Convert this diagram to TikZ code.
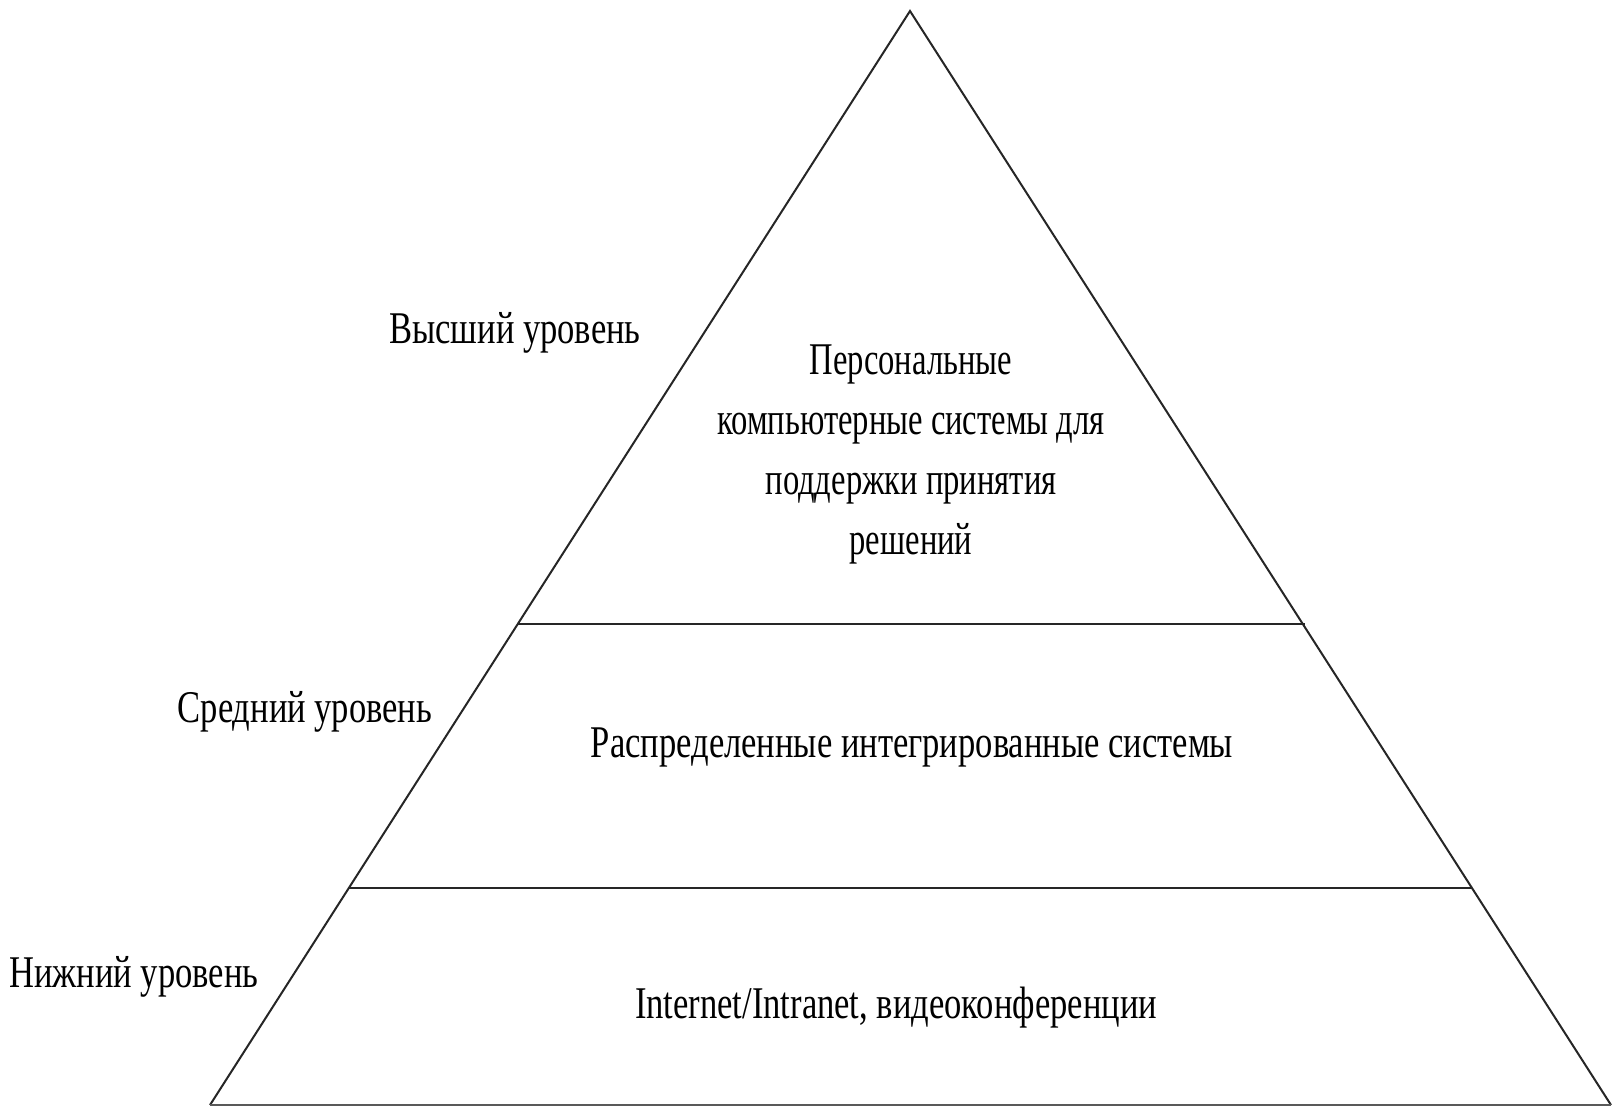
\documentclass[tikz,border=0pt]{standalone}
\usepackage{fontspec}
\setmainfont{Liberation Serif}
\newcommand\tallA[1]{\scalebox{0.96}[1.26]{#1}}
\newcommand\tallB[1]{\scalebox{0.905}[1.26]{#1}}
\begin{document}
\begin{tikzpicture}[x=1pt,y=-1pt,
  edge/.style={line width=2pt,draw=black!85,line join=miter},
  lvl/.style={font=\fontsize{36}{60}\selectfont,inner sep=0pt,anchor=center},
  body/.style={font=\fontsize{36}{60}\selectfont,inner sep=0pt,align=center,anchor=center}]
\useasboundingbox (0,0) rectangle (1623,1108);
\coordinate (top) at (910,11);
\coordinate (bl) at (210,1105);
\coordinate (br) at (1611,1105);
\coordinate (l1) at (517,624);
\coordinate (r1) at (1305,624);
\coordinate (l2) at (349,888);
\coordinate (r2) at (1472,888);
\draw[edge] (bl) -- (top) -- (br);
\draw[line width=2.6pt,draw=black!65] (bl) -- (br);
\draw[edge] (l1) -- (r1);
\draw[edge] (l2) -- (r2);
\node[lvl] (high) at (515,333) {\tallA{Высший уровень}};
\node[lvl] (mid) at (305,712) {\tallA{Средний уровень}};
\node[lvl] (low) at (134,977) {\tallA{Нижний уровень}};
\node[body] (tier1) at (911,454) {\tallB{Персональные}\\\tallB{компьютерные системы для}\\\tallB{поддержки принятия}\\\tallB{решений}};
\node[body] (tier2) at (912,747) {\tallA{Распределенные интегрированные системы}};
\node[body] (tier3) at (896,1008) {\tallA{Internet/Intranet, видеоконференции}};
\end{tikzpicture}
\end{document}
